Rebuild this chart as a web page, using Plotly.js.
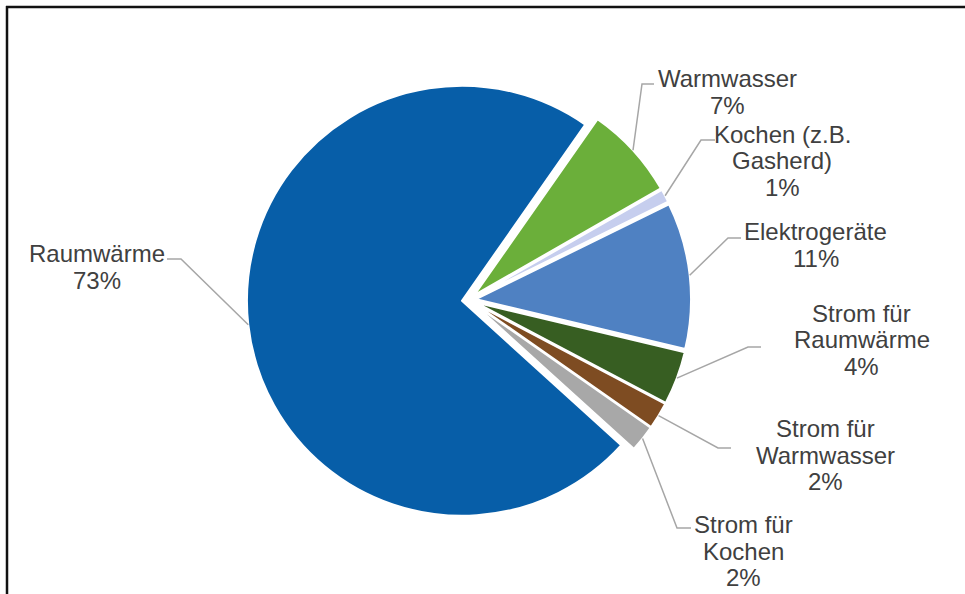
<!DOCTYPE html>
<html><head><meta charset="utf-8">
<script src="https://cdn.plot.ly/plotly-3.0.1.min.js"></script>
<style>html,body{margin:0;padding:0;background:#fff}#chart{width:965px;height:594px}</style>
</head><body><div id="chart"></div>
<script>
// ---- data ----
const categories = ["Warmwasser", "Kochen (z.B. Gasherd)", "Elektrogeräte", "Strom für Raumwärme", "Strom für Warmwasser", "Strom für Kochen", "Raumwärme"];
const values = [7, 1, 11, 4, 2, 2, 73];
const labelLines = [["Warmwasser"], ["Kochen (z.B.", "Gasherd)"], ["Elektrogeräte"], ["Strom für", "Raumwärme"], ["Strom für", "Warmwasser"], ["Strom für", "Kochen"], ["Raumwärme"]];

// ---- styles / layout ----
const colors = ["#6BAF3A", "#C6CEEE", "#4F81C2", "#375E22", "#7E4C22", "#A8A8A8", "#075EA8"];
const W = 965, H = 594, CX = 469, CY = 300, R = 215, PULL = 0.033, ROT = 35;
const labelAnchor = [[727, 87], [782, 143], [815.5, 240], [861.5, 322], [825, 437], [743, 533], [97, 262]];
const leaderElbow = [[642, 84, 654], [701, 140, 715], [728, 238, 741], [748, 347, 761], [718, 448, 731], [677, 528, 691], [181, 259, 167]];
const LINE_STEP = 26.5, FONT_SIZE = 24, TEXT_COLOR = "#404040";

const px = x => x / W, py = y => 1 - y / H;
const half = R * (1 + PULL);
const total = values.reduce((a, b) => a + b, 0);

const trace = {
  type: "pie", values: values, labels: categories, sort: false, direction: "clockwise",
  rotation: ROT, pull: values.map(() => PULL), textinfo: "none", hoverinfo: "label+percent",
  marker: {colors: colors, line: {color: "#ffffff", width: 2}},
  domain: {x: [px(CX - half), px(CX + half)], y: [py(CY + half), py(CY - half)]},
  showlegend: false
};

const annotations = [], shapes = [];
let cum = 0;
values.forEach((v, i) => {
  const mid = (ROT + (cum + v / 2) / total * 360) * Math.PI / 180;
  cum += v;
  const ex = CX + half * Math.sin(mid), ey = CY - half * Math.cos(mid);
  const [bx, by, hx] = leaderElbow[i];
  shapes.push({type: "path", xref: "paper", yref: "paper",
    path: `M${px(ex)},${py(ey)} L${px(bx)},${py(by)} L${px(hx)},${py(by)}`,
    line: {color: "#A6A6A6", width: 1.5}});
  const lines = labelLines[i].concat([Math.round(v / total * 100) + "%"]);
  const [ax, ay] = labelAnchor[i];
  lines.forEach((t, k) => {
    annotations.push({text: t, showarrow: false, xref: "paper", yref: "paper",
      x: px(ax), y: py(ay + k * LINE_STEP - 8.5), xanchor: "center", yanchor: "middle",
      font: {family: "Liberation Sans, Arial, sans-serif", size: FONT_SIZE, color: TEXT_COLOR}});
  });
});
// frame lines (top and left)
shapes.push({type: "line", xref: "paper", yref: "paper", x0: px(6), x1: 1, y0: py(7), y1: py(7), line: {color: "#111", width: 2.5}});
shapes.push({type: "line", xref: "paper", yref: "paper", x0: px(7), x1: px(7), y0: py(6), y1: 0, line: {color: "#111", width: 2.5}});

Plotly.newPlot("chart", [trace], {
  width: W, height: H, margin: {l: 0, r: 0, t: 0, b: 0},
  paper_bgcolor: "#ffffff", plot_bgcolor: "#ffffff",
  annotations: annotations, shapes: shapes
}, {displayModeBar: false, staticPlot: true});
</script></body></html>
